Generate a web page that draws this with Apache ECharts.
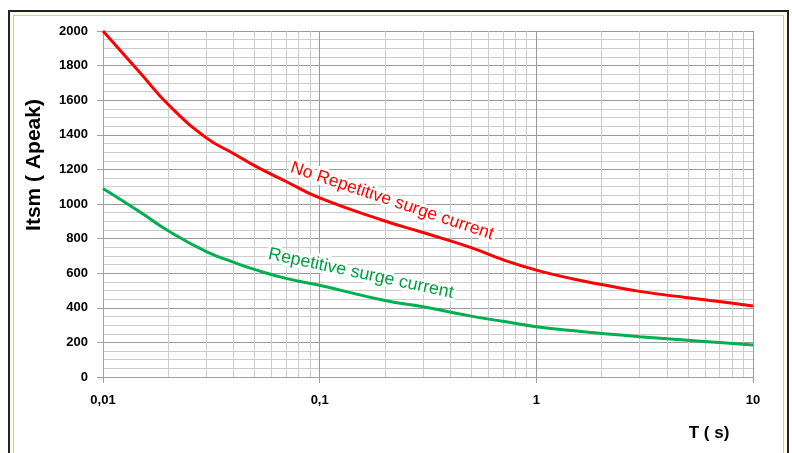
<!DOCTYPE html>
<html>
<head>
<meta charset="utf-8">
<script src="https://cdn.jsdelivr.net/npm/echarts@6/dist/echarts.min.js"></script>
<style>
html,body{margin:0;padding:0;background:#fff;}
#frame{position:absolute;left:8px;top:10px;width:777px;height:450px;border-left:2px solid #222;border-top:2px solid #222;border-right:2px solid #222;background:#fffbe8;}
#inner{position:absolute;left:3px;top:3px;right:3px;bottom:0;border-left:1px solid #c8c8c8;border-top:1px solid #c8c8c8;border-right:1px solid #c8c8c8;background:#fff;}
#chart{position:absolute;left:0;top:0;width:792px;height:453px;}
</style>
</head>
<body>
<div id="frame"><div id="inner"></div></div>
<div id="chart"></div>
<script>
// Data
var timeS = [0.01, 0.015, 0.02, 0.03, 0.04, 0.05, 0.07, 0.1, 0.2, 0.3, 0.5, 0.7, 1, 1.5, 2, 3, 5, 7, 10];
var noRepetitive = [2000, 1752, 1575, 1382, 1292, 1222, 1130, 1035, 902, 835, 748, 678, 618, 565, 535, 495, 458, 436, 411];
var repetitive = [1090, 950, 845, 725, 664, 622, 570, 530, 442, 406, 352, 322, 291, 267, 252, 233, 212, 199, 185];
var yTickLabels = ['0', '200', '400', '600', '800', '1000', '1200', '1400', '1600', '1800', '2000'];
var xTickLabels = {0.01: '0,01', 0.1: '0,1', 1: '1', 10: '10'};
var redLabel = {text: 'No Repetitive surge current', x: 0.216, y: 1017, angle: 18.5};
var greenLabel = {text: 'Repetitive surge current', x: 0.155, y: 598, angle: 12};

// minor log grid positions (2..9 per decade)
var minorX = [];
[0.01, 0.1, 1].forEach(function (d) {
  for (var k = 2; k <= 9; k++) minorX.push(+(d * k).toPrecision(3));
});

function pairs(xs, ys) { return xs.map(function (x, i) { return [x, ys[i]]; }); }

var chart = echarts.init(document.getElementById('chart'), null, {renderer: 'canvas'});
var font = 'Liberation Sans, Arial, sans-serif';
var option = {
  animation: false,
  backgroundColor: 'transparent',
  grid: {left: 103, right: 39, top: 31, bottom: 76},
  xAxis: {
    type: 'log', logBase: 10, min: 0.01, max: 10,
    axisLine: {show: true, lineStyle: {color: '#a0a0a0', width: 1}},
    axisTick: {show: true, length: 6, lineStyle: {color: '#a0a0a0'}},
    axisLabel: {
      margin: 17, color: '#000', fontWeight: 'bold', fontSize: 13, fontFamily: font,
      formatter: function (v) { var k = +v.toPrecision(3); return xTickLabels[k] || ''; }
    },
    splitLine: {show: true, lineStyle: {color: '#9a9a9a', width: 1}},
    minorTick: {show: false},
    minorSplitLine: {show: false}
  },
  yAxis: {
    type: 'value', min: 0, max: 2000, interval: 200,
    axisLine: {show: true, lineStyle: {color: '#a0a0a0', width: 1}},
    axisTick: {show: true, length: 6, lineStyle: {color: '#a0a0a0'}},
    axisLabel: {
      margin: 15, color: '#000', fontWeight: 'bold', fontSize: 13, fontFamily: font,
      formatter: function (v) { return yTickLabels[Math.round(v / 200)]; }
    },
    splitLine: {show: true, lineStyle: {color: '#9a9a9a', width: 1}},
    minorTick: {show: false, splitNumber: 4},
    minorSplitLine: {show: true, lineStyle: {color: '#cccccc', width: 1}}
  },
  series: [
    {
      type: 'line', name: 'minor', data: [], silent: true, z: 1,
      markLine: {
        silent: true, symbol: 'none', label: {show: false},
        lineStyle: {color: '#cccccc', width: 1, type: 'solid'},
        data: minorX.map(function (v) { return {xAxis: v}; })
      }
    },
    {
      type: 'line', name: 'No Repetitive surge current', data: pairs(timeS, noRepetitive),
      smooth: 0.5, showSymbol: false, z: 5,
      lineStyle: {color: '#ff0000', width: 3}, itemStyle: {color: '#ff0000'}
    },
    {
      type: 'line', name: 'Repetitive surge current', data: pairs(timeS, repetitive),
      smooth: 0.5, showSymbol: false, z: 5,
      lineStyle: {color: '#00b050', width: 3}, itemStyle: {color: '#00b050'}
    }
  ]
};
chart.setOption(option);

function labelGraphic(lbl, color, size) {
  var p = chart.convertToPixel({gridIndex: 0}, [lbl.x, lbl.y]);
  return {
    type: 'text', x: p[0], y: p[1], rotation: -lbl.angle * Math.PI / 180, z: 10,
    style: {
      text: lbl.text, fill: color, font: size + 'px ' + font,
      align: 'center', verticalAlign: 'middle',
      stroke: '#ffffff', lineWidth: 6
    }
  };
}
chart.setOption({
  graphic: [
    labelGraphic(redLabel, '#ff0000', 17.5),
    labelGraphic(greenLabel, '#00a040', 17.8),
    {
      type: 'text', x: 34, y: 165, rotation: Math.PI / 2, z: 10,
      style: {text: 'Itsm ( Apeak)', fill: '#000', font: 'bold 21px ' + font, align: 'center', verticalAlign: 'middle'}
    },
    {
      type: 'text', x: 709, y: 433, z: 10,
      style: {text: 'T ( s)', fill: '#000', font: 'bold 17px ' + font, align: 'center', verticalAlign: 'middle'}
    }
  ]
});
</script>
</body>
</html>
